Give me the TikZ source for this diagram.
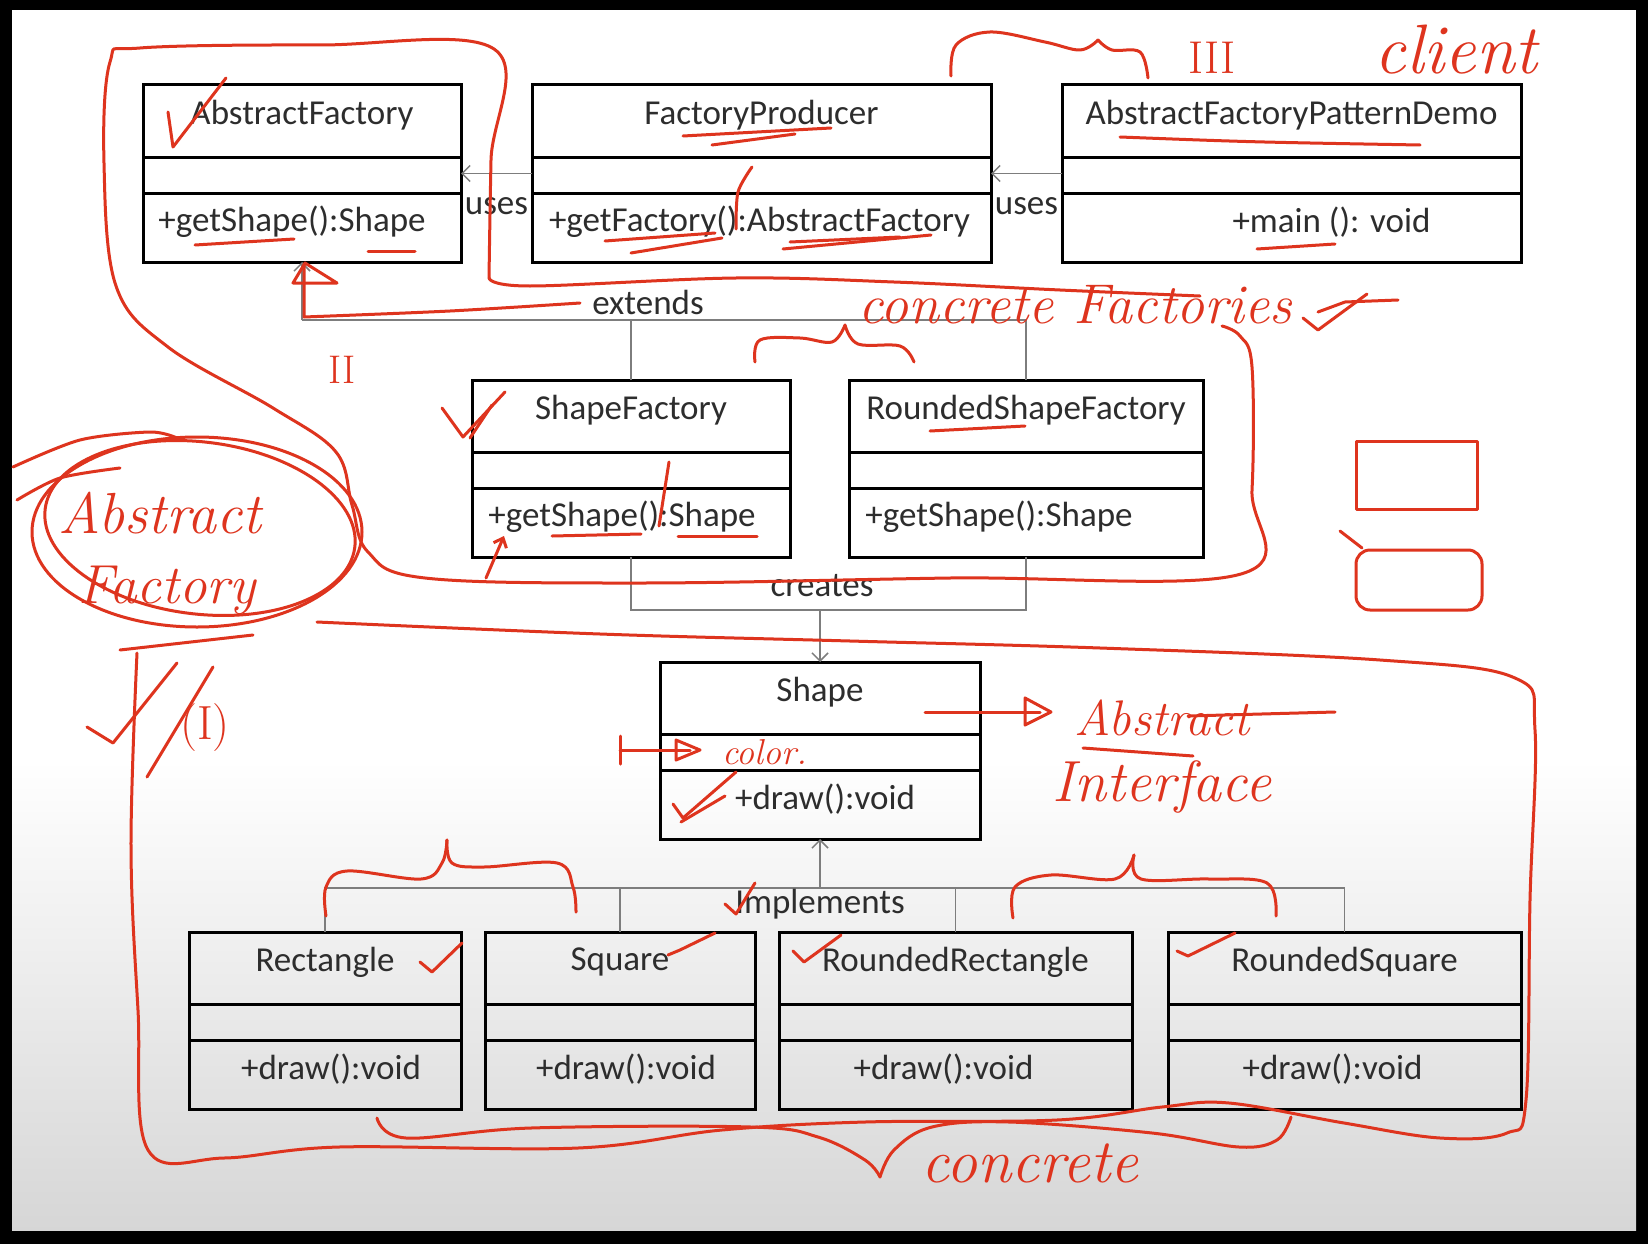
\documentclass[tikz,border=0pt]{standalone}
\usepackage{fontspec}
\newfontfamily\umlfont{Carlito}
\usetikzlibrary{positioning,arrows.meta}

\definecolor{ink}{RGB}{45,45,45}
\definecolor{redink}{RGB}{222,52,30}
\definecolor{link}{RGB}{125,125,125}

\tikzset{
  classbox/.style={draw=black, line width=3pt, minimum height=177pt, inner sep=0pt, outer sep=0pt},
  classline/.style={black, line width=3pt},
  classtext/.style={text=ink, font=\umlfont\fontsize{35}{42}\selectfont, inner sep=0pt},
  conn/.style={draw=link, line width=1.5pt},
  usesarrow/.style={-{Straight Barb[length=8pt,width=16pt]}},
  pen/.style={draw=redink, line width=3pt, line cap=round, line join=round},
  hand/.style={text=redink, font=\itshape\fontsize{#1}{#1}\selectfont, inner sep=0pt},
  hand/.default=48,
  handup/.style={text=redink, font=\upshape\fontsize{#1}{#1}\selectfont, inner sep=0pt},
  handup/.default=44,
}

% class box: name, left, top, width, title, operation, shift of operation
\newcommand{\umlclass}[7]{%
  \node[classbox, minimum width=#4pt, anchor=north west] (#1) at (#2,#3) {};
  \draw[classline] ([yshift=-72pt]#1.north west) -- ([yshift=-72pt]#1.north east);
  \draw[classline] ([yshift=-108pt]#1.north west) -- ([yshift=-108pt]#1.north east);
  \node[classtext] (#1-name) at ([yshift=-30pt]#1.north) {#5};
  \node[classtext] (#1-op) at ([xshift=#7pt, yshift=-137pt]#1.north) {#6};
}

\begin{document}
\begin{tikzpicture}[x=1pt, y=-1pt]
  % screen frame
  \fill[black] (0,0) rectangle (1648,1244);
  \useasboundingbox (0,0) rectangle (1648,1244);
  \fill[white] (12,10) rectangle (1636,760);
  \shade[top color=white, bottom color=black!16] (12,760) rectangle (1636,1230);

  % classes
  \umlclass{AF}{143}{85}{318}{AbstractFactory}{+getShape():Shape}{-10}
  \umlclass{FP}{532}{85}{459}{FactoryProducer}{+getFactory():AbstractFactory}{-2}
  \umlclass{Demo}{1062}{85}{459}{AbstractFactoryPatternDemo}{+main (): void}{40}
  \umlclass{SF}{472}{380}{318}{ShapeFactory}{+getShape():Shape}{-9}
  \umlclass{RSF}{849}{380}{354}{RoundedShapeFactory}{+getShape():Shape}{-27}
  \umlclass{Shape}{660}{662}{320}{Shape}{+draw():void}{5}
  \umlclass{Rect}{189}{932}{272}{Rectangle}{+draw():void}{6}
  \umlclass{Sq}{485}{932}{270}{Square}{+draw():void}{6}
  \umlclass{RR}{779}{932}{353}{RoundedRectangle}{+draw():void}{-12}
  \umlclass{RS}{1168}{932}{353}{RoundedSquare}{+draw():void}{-12}

  % uses
  \draw[conn, usesarrow] (FP.west) -- (AF.east) node[classtext, midway, yshift=-33pt] (uses1) {uses};
  \draw[conn, usesarrow] (Demo.west) -- (FP.east) node[classtext, midway, yshift=-33pt] (uses2) {uses};

  % extends
  \coordinate (extbar) at (0,320);
  \draw[conn] (RSF.north) |- (extbar -| AF.south);
  \draw[conn] (SF.north) -- (SF.north |- extbar);
  \draw[conn, usesarrow] (extbar -| AF.south) -- (AF.south);
  \node[classtext] (extends) at (648,302) {extends};

  % creates
  \coordinate (crbar) at (0,610);
  \draw[conn] (SF.south) |- (crbar -| RSF.south) -- (RSF.south);
  \draw[conn, usesarrow] (crbar -| Shape.north) -- (Shape.north);
  \node[classtext] (creates) at (822,586) {creates};

  % implements
  \coordinate (imbar) at (0,888);
  \draw[conn] (Rect.north) |- (imbar -| RS.north) -- (RS.north);
  \draw[conn] (Sq.north) -- (Sq.north |- imbar);
  \draw[conn] (RR.north) -- (RR.north |- imbar);
  \draw[conn, usesarrow] (imbar -| Shape.south) -- (Shape.south);
  \node[classtext] (implements) at (820,904) {Implements};

  % ---- pen notes ----
  % loop round the factories
  \draw[pen] plot[smooth, tension=0.6] coordinates {(489,278) (491,160) (494,49) (320,45) (140,48) (110,62) (104,163) (116,286) (168,347) (273,408) (336,452) (352,505) (368,552) (425,578) (640,583) (950,578) (1241,574) (1252,490) (1252,367) (1240,336) (1222,326)};
  \draw[pen] plot[smooth, tension=0.6] coordinates {(489,278) (530,286) (736,278) (894,282) (1060,290) (1200,296)};
  \node[hand=56] (cfact) at (1075,305) {concrete Factories};
  \draw[pen] (1303,318) -- (1318,330) -- (1367,294);
  \draw[pen] (1318,312) -- (1345,302) -- (1398,300);
  \draw[pen] plot[smooth, tension=0.6] coordinates {(755,362) (760,340) (800,338) (832,342) (845,325)};
  \draw[pen] plot[smooth, tension=0.6] coordinates {(845,325) (858,344) (900,346) (914,362)};

  % top right
  \draw[pen] plot[smooth, tension=0.6] coordinates {(951,76) (956,45) (990,32) (1045,42) (1080,50) (1098,40)};
  \draw[pen] plot[smooth, tension=0.6] coordinates {(1098,40) (1112,50) (1140,52) (1148,78)};
  \node[handup=46] (three) at (1212,58) {III};
  \node[hand=70] (client) at (1456,50) {client};

  % abstract factory ring
  \draw[pen] (197,532) ellipse [x radius=165, y radius=95];
  \draw[pen, rotate around={-7:(200,528)}] (200,528) ellipse [x radius=156, y radius=86];
  \draw[pen] plot[smooth] coordinates {(13,467) (80,440) (150,432) (177,438)};
  \draw[pen] plot[smooth] coordinates {(17,500) (60,478) (120,468)};
  \node[hand=58] (abs) at (160,513) {Abstract};
  \node[hand=55] (fac) at (167,590) {Factory};
  \draw[pen] (120,650) -- (253,635);
  \draw[pen] (87,727) -- (113,743) -- (177,663);
  \draw[pen] (147,777) -- (213,667);
  \node[handup=48] (one) at (205,728) {(I)};
  \node[handup=40] (two) at (342,370) {II};

  % extends, by pen
  \draw[pen] plot[smooth] coordinates {(580,303) (450,311) (304,317)} -- (304,264);
  \draw[pen] (293,283) -- (305,263) -- (337,283) -- cycle;

  % ticks and underlines, top row
  \draw[pen] (168,112) -- (173,147) -- (226,78);
  \draw[pen] (195,245) -- (294,239);
  \draw[pen] (368,251) -- (415,251);
  \draw[pen] (683,136) -- (831,128);
  \draw[pen] (712,145) -- (795,134);
  \draw[pen] (1120,137) .. controls (1250,142) .. (1420,145);
  \draw[pen] (605,241) -- (715,233);
  \draw[pen] (631,253) -- (722,238);
  \draw[pen] (783,249) -- (931,235);
  \draw[pen] (790,242) -- (900,237);
  \draw[pen] plot[smooth] coordinates {(752,167) (738,192) (736,229)};
  \draw[pen] (1257,249) -- (1335,244);

  % middle row
  \draw[pen] (442,408) -- (463,437) -- (505,392);
  \draw[pen] (470,438) -- (492,405);
  \draw[pen] (552,536) -- (641,534);
  \draw[pen] (678,536) -- (757,536);
  \draw[pen] (669,462) -- (659,526);
  \draw[pen, -{Straight Barb[length=8pt,width=14pt]}] (486,578) -- (504,536);
  \draw[pen] (930,431) -- (1025,426);
  \draw[pen] (1356,441) rectangle (1477,509);
  \draw[pen, rounded corners=14pt] (1356,550) rectangle (1482,610);
  \draw[pen] (1340,531) -- (1362,548);

  % shape notes
  \draw[pen] (925,712) -- (1040,712);
  \draw[pen] (1025,698) -- (1051,712) -- (1025,725) -- cycle;
  \node[hand=50] (abs2) at (1162,718) {Abstract};
  \draw[pen] (1188,716) -- (1335,712);
  \draw[pen] (1083,748) -- (1193,756);
  \node[hand=58] (iface) at (1162,787) {Interface};
  \draw[pen] (620,736) -- (620,764);
  \draw[pen] (620,750) -- (690,750);
  \draw[pen] (676,740) -- (700,750) -- (676,760) -- cycle;
  \node[hand=36] (color) at (765,752) {color.};
  \draw[pen] (673,804) -- (683,818) -- (736,772);
  \draw[pen] (681,822) -- (725,796);

  % bottom row
  \draw[pen] plot[smooth, tension=0.6] coordinates {(317,622) (600,634) (850,641) (1100,648) (1380,660) (1515,678) (1535,730) (1530,900) (1526,1100) (1507,1133) (1440,1138) (1344,1123) (1229,1103) (1162,1107) (1057,1120) (865,1122) (722,1130) (578,1148) (339,1147) (224,1158) (148,1150) (138,1010) (131,846) (137,653)};
  \draw[pen] plot[smooth, tension=0.6] coordinates {(326,916) (326,887) (347,871) (421,879) (442,863) (447,840)};
  \draw[pen] plot[smooth, tension=0.6] coordinates {(447,840) (452,863) (484,867) (557,863) (573,887) (576,912)};
  \draw[pen] plot[smooth, tension=0.6] coordinates {(1013,918) (1015,887) (1051,875) (1115,879) (1134,855)};
  \draw[pen] plot[smooth, tension=0.6] coordinates {(1134,855) (1141,879) (1209,879) (1267,883) (1276,916)};
  \draw[pen] (725,904) -- (736,914) -- (755,883);
  \draw[pen] (420,962) -- (432,972) -- (462,943);
  \draw[pen] (668,955) -- (680,950) -- (715,933);
  \draw[pen] (793,951) -- (804,962) -- (841,935);
  \draw[pen] (1177,951) -- (1188,956) -- (1235,933);
  \draw[pen] plot[smooth, tension=0.6] coordinates {(377,1118) (406,1138) (531,1128) (751,1127) (818,1137) (865,1160) (880,1177)};
  \draw[pen] plot[smooth, tension=0.6] coordinates {(880,1177) (894,1150) (932,1127) (1009,1122) (1152,1133) (1239,1147) (1277,1140) (1291,1117)};
  \node[hand=62] (concrete) at (1030,1163) {concrete};
\end{tikzpicture}
\end{document}
